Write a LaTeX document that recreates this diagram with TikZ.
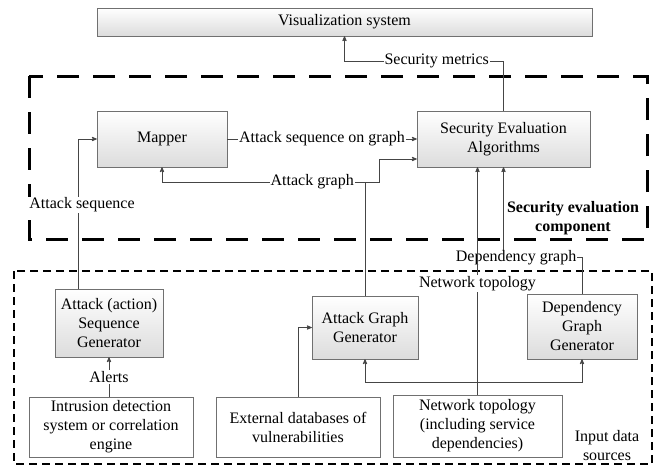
\documentclass[tikz,border=0pt]{standalone}
\usepackage{fontspec}
\setmainfont{Liberation Serif}
\usetikzlibrary{arrows}

\definecolor{linegray}{HTML}{454545}
\definecolor{boxgray}{HTML}{707070}
\definecolor{shadegray}{HTML}{DCDCDC}

\begin{document}
\begin{tikzpicture}
    [x=1pt,y=-1pt,>=stealth',font=\fontsize{16}{19}\selectfont,
        link/.style={->,draw=linegray,line width=0.8pt},
        comp node/.style={rectangle,draw=boxgray,top color=white,bottom color=shadegray,align=center,inner sep=2pt},
        input node/.style={rectangle,draw=boxgray,fill=white,align=center,inner sep=2pt},
        label node/.style={fill=white,inner sep=1pt,text=black}]

    \useasboundingbox (0,0) rectangle (655,466);

    % component boundaries
    \draw[line width=3pt,dash pattern=on 22pt off 14pt] (29,76) rectangle (647,239);
    \draw[line width=1.1pt,dash pattern=on 8pt off 5pt] (14,271) rectangle (652,464);

    \node[comp node,minimum width=495pt,minimum height=28pt] (vis) at (344.5,22) {Visualization system};
    \node[comp node,minimum width=130pt,minimum height=56pt] (mapper) at (162,139) {Mapper};
    \node[comp node,minimum width=173pt,minimum height=56pt] (sea) at (503.5,139) {Security Evaluation\\Algorithms};
    \node[comp node,minimum width=108pt,minimum height=68pt] (asg) at (109,323) {Attack (action)\\Sequence\\Generator};
    \node[comp node,minimum width=106pt,minimum height=63pt] (agg) at (365,327.5) {Attack Graph\\Generator};
    \node[comp node,minimum width=110pt,minimum height=65pt] (dgg) at (582,326.5) {Dependency\\Graph\\Generator};
    \node[input node,minimum width=164pt,minimum height=60pt] (ids) at (111,427) {Intrusion detection\\system or correlation\\engine};
    \node[input node,minimum width=164pt,minimum height=60pt] (vulndb) at (298,427) {External databases of\\vulnerabilities};
    \node[input node,minimum width=169pt,minimum height=62pt] (topo) at (477.5,426) {Network topology\\(including service\\dependencies)};

    \node[font=\fontsize{16}{19}\selectfont\bfseries,align=center] (evallbl) at (573,218) {Security evaluation\\component};
    \node[align=center] (inputlbl) at (607,445.5) {Input data\\sources};

    \coordinate (metrics) at (344.5,61);
    \coordinate (ag) at (365,182);
    \coordinate (split) at (477.5,382);

    \draw[link] (sea.north) |- node[label node,pos=0.71] {Security metrics} (metrics) -- (vis.south);
    \draw[link] (mapper) -- node[label node] {Attack sequence on graph} (sea);
    \draw[link] ([xshift=-31pt]asg.north) |- node[label node,pos=0.28,xshift=4pt] {Attack sequence} (mapper.west);
    \draw[link] (ids.north -| asg.south) -- node[label node] {Alerts} (asg.south);
    \draw[link,-] (agg.north) -- (ag);
    \draw[link] (ag) -| node[label node,pos=0.13] {Attack graph} (mapper.south);
    \draw[link] (ag) -- ++(14,0) |- ([yshift=-20pt]sea.west);
    \draw[link] (vulndb.north) |- (agg.west);
    \draw[link] (dgg.north) -- ++(0,-36) -| node[label node,pos=0.42] {Dependency graph} (sea.south);
    \draw[link] (topo.north) -- (split) -| (agg.south);
    \draw[link] (split) -| (dgg.south);
    \draw[link] (topo.north) -- node[label node,pos=0.49] {Network topology} (topo.north |- sea.south);
\end{tikzpicture}
\end{document}
